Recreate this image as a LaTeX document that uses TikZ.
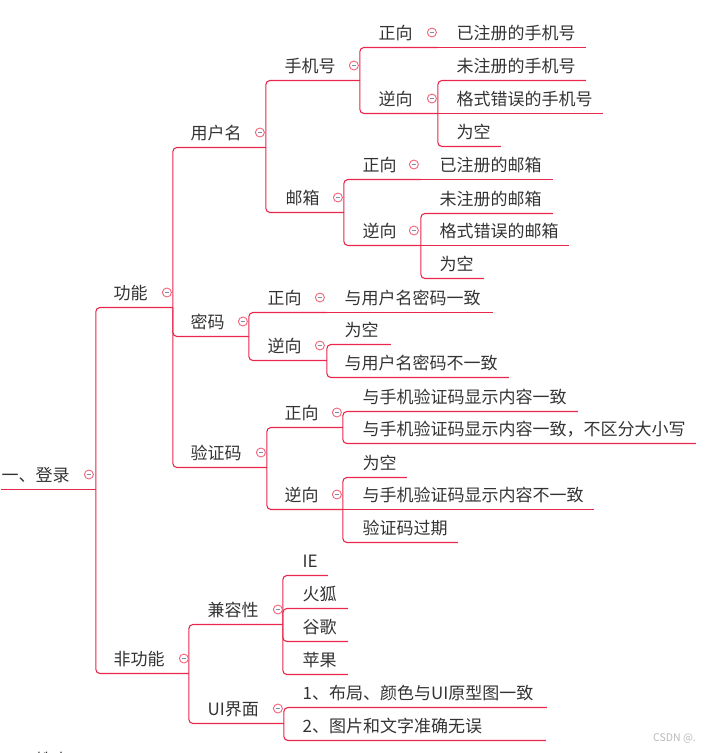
\documentclass[tikz,border=0pt]{standalone}
\usepackage{fontspec}
\newfontfamily\cjk{Noto Sans CJK SC}
\definecolor{linkred}{HTML}{E8274B}
\definecolor{foldred}{HTML}{F2637A}
\definecolor{folddash}{HTML}{7C8BA8}
\definecolor{txt}{HTML}{333333}

\begin{document}
\begin{tikzpicture}[
    x=1pt, y=-1pt,
    font=\cjk\fontsize{17}{20}\selectfont,
    topic/.style={anchor=south west, inner sep=0pt, text height=12pt, text depth=8pt, align=left, text=txt},
    fold/.style={circle, draw=foldred, fill=white, line width=0.9pt, minimum size=9pt, inner sep=0pt,
      path picture={\draw[folddash, line width=0.9pt]
        ([xshift=-2.3pt]path picture bounding box.center) -- ([xshift=2.3pt]path picture bounding box.center);}},
    link/.style={draw=linkred, line width=1.1pt, rounded corners=4pt},
    wm/.style={text=gray!55, font=\cjk\fontsize{10.5}{12}\selectfont}
  ]
    \useasboundingbox (-0.5,-0.5) rectangle (706.5,752.5);
    \clip (-0.5,-0.5) rectangle (706.5,752.5);

    \node[topic, text width=94pt]  (login)  at (1,489)   {一、登录};
    \node[topic, text width=59pt]  (func)   at (113,307) {功能};
    \node[topic, text width=75pt]  (user)   at (190,147) {用户名};
    \node[topic, text width=75pt]  (phone)  at (284,80)  {手机号};
    \node[topic, text width=59pt]  (phpos)  at (378,47)  {正向};
    \node[topic, text width=129pt] (phpos1) at (456,47)  {已注册的手机号};
    \node[topic, text width=59pt]  (phneg)  at (378,113) {逆向};
    \node[topic, text width=129pt] (phneg1) at (456,80)  {未注册的手机号};
    \node[topic, text width=146pt] (phneg2) at (456,113) {格式错误的手机号};
    \node[topic, text width=44pt]  (phneg3) at (456,146) {为空};
    \node[topic, text width=58pt]  (mail)   at (285,212) {邮箱};
    \node[topic, text width=58pt]  (mlpos)  at (362,179) {正向};
    \node[topic, text width=113pt] (mlpos1) at (439,179) {已注册的邮箱};
    \node[topic, text width=58pt]  (mlneg)  at (362,245) {逆向};
    \node[topic, text width=113pt] (mlneg1) at (439,213) {未注册的邮箱};
    \node[topic, text width=129pt] (mlneg2) at (439,245) {格式错误的邮箱};
    \node[topic, text width=44pt]  (mlneg3) at (439,278) {为空};
    \node[topic, text width=58pt]  (pwd)    at (190,336) {密码};
    \node[topic, text width=59pt]  (pwpos)  at (267,312) {正向};
    \node[topic, text width=148pt] (pwpos1) at (344,312) {与用户名密码一致};
    \node[topic, text width=59pt]  (pwneg)  at (267,360) {逆向};
    \node[topic, text width=46pt]  (pwneg1) at (344,344) {为空};
    \node[topic, text width=164pt] (pwneg2) at (344,377) {与用户名密码不一致};
    \node[topic, text width=76pt]  (code)   at (190,467) {验证码};
    \node[topic, text width=58pt]  (cdpos)  at (284,427) {正向};
    \node[topic, text width=215pt] (cdpos1) at (362,411) {与手机验证码显示内容一致};
    \node[topic, text width=333pt] (cdpos2) at (362,443) {与手机验证码显示内容一致，不区分大小写};
    \node[topic, text width=58pt]  (cdneg)  at (284,509) {逆向};
    \node[topic, text width=44pt]  (cdneg1) at (362,477) {为空};
    \node[topic, text width=231pt] (cdneg2) at (362,509) {与手机验证码显示内容不一致};
    \node[topic, text width=95pt]  (cdneg3) at (362,542) {验证码过期};
    \node[topic, text width=75pt]  (nfunc)  at (113,673) {非功能};
    \node[topic, text width=75pt]  (compat) at (207,624) {兼容性};
    \node[topic, text width=25pt]  (ie)     at (302,575) {IE};
    \node[topic, text width=45pt]  (fox)    at (302,608) {火狐};
    \node[topic, text width=45pt]  (chrome) at (302,641) {谷歌};
    \node[topic, text width=45pt]  (apple)  at (302,674) {苹果};
    \node[topic, text width=76pt]  (ui)     at (207,723) {UI界面};
    \node[topic, text width=244pt] (ui1)    at (302,707) {1、布局、颜色与UI原型图一致};
    \node[topic, text width=243pt] (ui2)    at (302,740) {2、图片和文字准确无误};
    \node[topic, text width=94pt]  (search) at (1,774)   {二、搜索};

    \draw[link] (login.south west) -- (login.south east);
    \draw[link] (login.south east) |- (func.south east);
    \draw[link] (login.south east) |- (nfunc.south east);
    \draw[link] (func.south east) |- (user.south east);
    \draw[link] (func.south east) |- (pwd.south east);
    \draw[link] (func.south east) |- (code.south east);
    \draw[link] (user.south east) |- (phone.south east);
    \draw[link] (user.south east) |- (mail.south east);
    \draw[link] (phone.south east) |- (phpos.south east);
    \draw[link] (phone.south east) |- (phneg.south east);
    \draw[link] (phpos.south east) -- (phpos1.south east);
    \draw[link] (phneg.south east) |- (phneg1.south east);
    \draw[link] (phneg.south east) -- (phneg2.south east);
    \draw[link] (phneg.south east) |- (phneg3.south east);
    \draw[link] (mail.south east) |- (mlpos.south east);
    \draw[link] (mail.south east) |- (mlneg.south east);
    \draw[link] (mlpos.south east) -- (mlpos1.south east);
    \draw[link] (mlneg.south east) |- (mlneg1.south east);
    \draw[link] (mlneg.south east) -- (mlneg2.south east);
    \draw[link] (mlneg.south east) |- (mlneg3.south east);
    \draw[link] (pwd.south east) |- (pwpos.south east);
    \draw[link] (pwd.south east) |- (pwneg.south east);
    \draw[link] (pwpos.south east) -- (pwpos1.south east);
    \draw[link] (pwneg.south east) |- (pwneg1.south east);
    \draw[link] (pwneg.south east) |- (pwneg2.south east);
    \draw[link] (code.south east) |- (cdpos.south east);
    \draw[link] (code.south east) |- (cdneg.south east);
    \draw[link] (cdpos.south east) |- (cdpos1.south east);
    \draw[link] (cdpos.south east) |- (cdpos2.south east);
    \draw[link] (cdneg.south east) |- (cdneg1.south east);
    \draw[link] (cdneg.south east) -- (cdneg2.south east);
    \draw[link] (cdneg.south east) |- (cdneg3.south east);
    \draw[link] (nfunc.south east) |- (compat.south east);
    \draw[link] (nfunc.south east) |- (ui.south east);
    \draw[link] (compat.south east) |- (ie.south east);
    \draw[link] (compat.south east) |- (fox.south east);
    \draw[link] (compat.south east) |- (chrome.south east);
    \draw[link] (compat.south east) |- (apple.south east);
    \draw[link] (ui.south east) |- (ui1.south east);
    \draw[link] (ui.south east) |- (ui2.south east);

    \node[fold] (login-o)  at ([shift={(-7,-15)}]login.south east)  {};
    \node[fold] (func-o)   at ([shift={(-6,-15)}]func.south east)   {};
    \node[fold] (user-o)   at ([shift={(-6,-15)}]user.south east)   {};
    \node[fold] (phone-o)  at ([shift={(-6,-15)}]phone.south east)  {};
    \node[fold] (phpos-o)  at ([shift={(-6,-15)}]phpos.south east)  {};
    \node[fold] (phneg-o)  at ([shift={(-6,-15)}]phneg.south east)  {};
    \node[fold] (mail-o)   at ([shift={(-6,-15)}]mail.south east)   {};
    \node[fold] (mlpos-o)  at ([shift={(-7,-15)}]mlpos.south east)  {};
    \node[fold] (mlneg-o)  at ([shift={(-7,-15)}]mlneg.south east)  {};
    \node[fold] (pwd-o)    at ([shift={(-6,-15)}]pwd.south east)    {};
    \node[fold] (pwpos-o)  at ([shift={(-7,-15)}]pwpos.south east)  {};
    \node[fold] (pwneg-o)  at ([shift={(-7,-15)}]pwneg.south east)  {};
    \node[fold] (code-o)   at ([shift={(-6,-15)}]code.south east)   {};
    \node[fold] (cdpos-o)  at ([shift={(-6,-15)}]cdpos.south east)  {};
    \node[fold] (cdneg-o)  at ([shift={(-6,-15)}]cdneg.south east)  {};
    \node[fold] (nfunc-o)  at ([shift={(-5,-15)}]nfunc.south east)  {};
    \node[fold] (compat-o) at ([shift={(-5,-15)}]compat.south east) {};
    \node[fold] (ui-o)     at ([shift={(-6,-15)}]ui.south east)     {};

    \node[wm] (csdn) at (674,738) {CSDN @.};
  \end{tikzpicture}
\end{document}
